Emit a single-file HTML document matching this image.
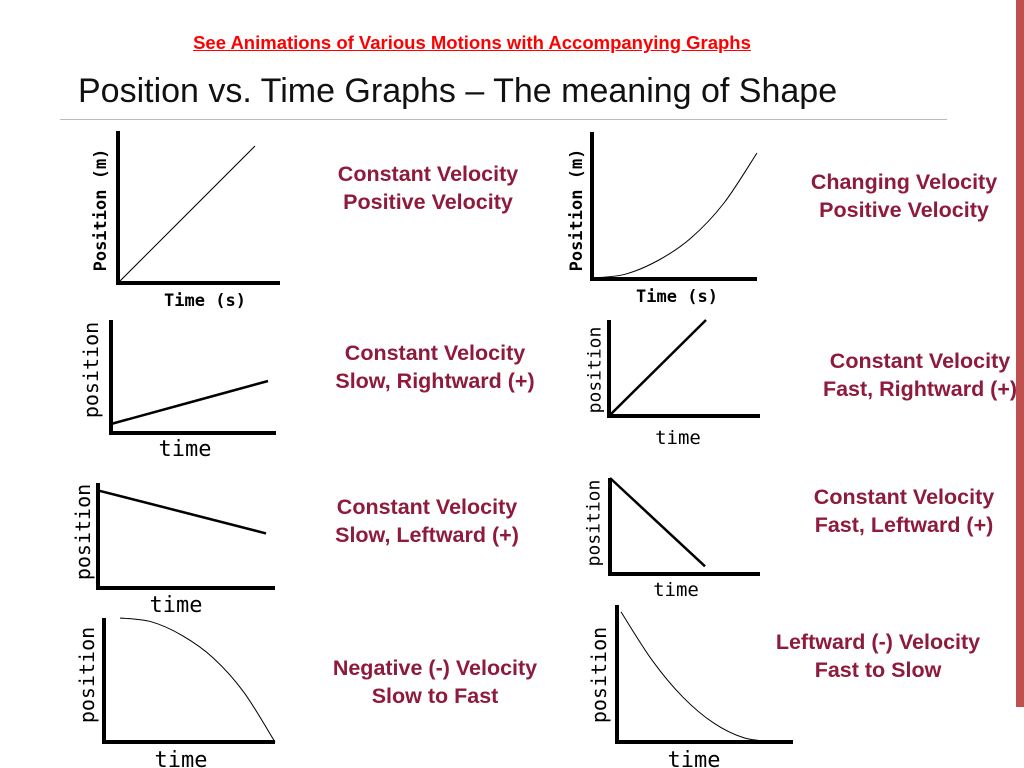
<!DOCTYPE html>
<html><head><meta charset="utf-8">
<style>
body{margin:0;width:1024px;height:768px;overflow:hidden;background:#fff;font-family:"Liberation Sans",sans-serif;position:relative}
.cap{position:absolute;color:#8e1a3c;font-weight:bold;font-size:21.5px;line-height:28px;text-align:center;width:300px;white-space:nowrap}
</style></head><body>
<a style="position:absolute;left:0;width:944px;top:32px;text-align:center;color:#f00;font-weight:bold;font-size:18.5px;text-decoration:underline">See Animations of Various Motions with Accompanying Graphs</a>
<div style="position:absolute;left:78px;top:72px;font-size:34px;color:#111">Position vs. Time Graphs – The meaning of Shape</div>
<div style="position:absolute;left:60px;top:119px;width:887px;height:1px;background:#bbb"></div>
<div style="position:absolute;left:1016px;top:0;width:8px;height:707px;background:#c0504d"></div>
<div class="cap" style="left:278px;top:160px">Constant Velocity<br>Positive Velocity</div>
<div class="cap" style="left:754px;top:168px">Changing Velocity<br>Positive Velocity</div>
<div class="cap" style="left:285px;top:339px">Constant Velocity<br>Slow, Rightward (+)</div>
<div class="cap" style="left:770px;top:347px">Constant Velocity<br>Fast, Rightward (+)</div>
<div class="cap" style="left:277px;top:493px">Constant Velocity<br>Slow, Leftward (+)</div>
<div class="cap" style="left:754px;top:483px">Constant Velocity<br>Fast, Leftward (+)</div>
<div class="cap" style="left:285px;top:654px">Negative (-) Velocity<br>Slow to Fast</div>
<div class="cap" style="left:728px;top:628px">Leftward (-) Velocity<br>Fast to Slow</div>
<svg id="s" width="1024" height="768" style="position:absolute;left:0;top:0"></svg>
<script>
// normalized sample x positions and y values (0=bottom,1=top of plot area)
const xs1=[0,1]; const ys1=[0,1];
const xs2=[0,0.2,0.4,0.6,0.8,1]; const ys2=[0,0.03,0.14,0.32,0.6,1];
const xs3=[0,1]; const ys3=[0.08,0.46];
const xs4=[0,1]; const ys4=[0,1];
const xs5=[0,1]; const ys5=[0.93,0.52];
const xs6=[0,1]; const ys6=[1,0.08];
const xs7=[0,0.2,0.4,0.6,0.8,1]; const ys7=[1,0.97,0.86,0.68,0.4,0];
const xs8=[0,0.2,0.4,0.6,0.8,1]; const ys8=[0.95,0.6,0.33,0.14,0.03,0];
const G=[
 {ax:118,top:131,bot:283,right:280,x0:118,x1:255,yt:146,yb:283,xs:xs1,ys:ys1,w:1,yl:"Position (m)",xl:"Time (s)",ylx:100,yly:210,xlx:205,xly:306,fs:17,xfs:17,b:1},
 {ax:592,top:132,bot:279,right:757,x0:592,x1:757,yt:153,yb:278,xs:xs2,ys:ys2,w:1,yl:"Position (m)",xl:"Time (s)",ylx:576,yly:210,xlx:677,xly:302,fs:17,xfs:17,b:1},
 {ax:111,top:320,bot:433,right:276,x0:111,x1:268,yt:320,yb:433,xs:xs3,ys:ys3,w:2.5,yl:"position",xl:"time",ylx:91,yly:370,xlx:185,xly:456,fs:20,xfs:22},
 {ax:609,top:320,bot:416,right:760,x0:609,x1:706,yt:320,yb:416,xs:xs4,ys:ys4,w:2.5,yl:"position",xl:"time",ylx:594,yly:370,xlx:678,xly:444,fs:18,xfs:19},
 {ax:98,top:483,bot:588,right:275,x0:98,x1:266,yt:483,yb:588,xs:xs5,ys:ys5,w:2.5,yl:"position",xl:"time",ylx:83,yly:532,xlx:176,xly:612,fs:20,xfs:22},
 {ax:610,top:478,bot:574,right:760,x0:610,x1:705,yt:478,yb:574,xs:xs6,ys:ys6,w:2.5,yl:"position",xl:"time",ylx:593,yly:523,xlx:676,xly:596,fs:18,xfs:19},
 {ax:104,top:618,bot:742,right:275,x0:120,x1:275,yt:618,yb:742,xs:xs7,ys:ys7,w:1,yl:"position",xl:"time",ylx:87,yly:675,xlx:181,xly:767,fs:20,xfs:22},
 {ax:617,top:605,bot:742,right:793,x0:621,x1:775,yt:605,yb:742,xs:xs8,ys:ys8,w:1,yl:"position",xl:"time",ylx:599,yly:675,xlx:694,xly:767,fs:20,xfs:22}
];
const s=document.getElementById('s');const NS="http://www.w3.org/2000/svg";
function mk(t,a){const e=document.createElementNS(NS,t);for(const k in a)e.setAttribute(k,a[k]);s.appendChild(e);return e;}
G.forEach((g,i)=>{
 const sx=v=>g.x0+v*(g.x1-g.x0), sy=v=>g.yb-v*(g.yb-g.yt);
 const ax=mk('path',{d:`M${g.ax} ${g.top}V${g.bot}H${g.right}`,fill:'none',stroke:'#000','stroke-width':4});
 
 
 const P=g.xs.map((x,j)=>[sx(x),sy(g.ys[j])]);
 let d='M'+P[0][0].toFixed(1)+' '+P[0][1].toFixed(1);
 for(let j=0;j<P.length-1;j++){
  const p0=P[Math.max(j-1,0)],p1=P[j],p2=P[j+1],p3=P[Math.min(j+2,P.length-1)];
  const c1=[p1[0]+(p2[0]-p0[0])/6,p1[1]+(p2[1]-p0[1])/6],c2=[p2[0]-(p3[0]-p1[0])/6,p2[1]-(p3[1]-p1[1])/6];
  d+=`C${c1[0].toFixed(1)} ${c1[1].toFixed(1)} ${c2[0].toFixed(1)} ${c2[1].toFixed(1)} ${p2[0].toFixed(1)} ${p2[1].toFixed(1)}`;
 }
 const ln=mk('path',{d:d,fill:'none',stroke:'#000','stroke-width':g.w});
 
 
 const yl=mk('text',{x:0,y:0,transform:`translate(${g.ylx+g.fs*0.35},${g.yly}) rotate(-90)`,'text-anchor':'middle','font-family':'DejaVu Sans Mono, monospace','font-size':g.fs,'font-weight':g.b?'bold':'normal'});
 yl.textContent=g.yl;
 
 
 const xl=mk('text',{x:g.xlx,y:g.xly,'text-anchor':'middle','font-family':'DejaVu Sans Mono, monospace','font-size':g.xfs,'font-weight':g.b?'bold':'normal'});
 xl.textContent=g.xl;
 
 
});
</script>
</body></html>
